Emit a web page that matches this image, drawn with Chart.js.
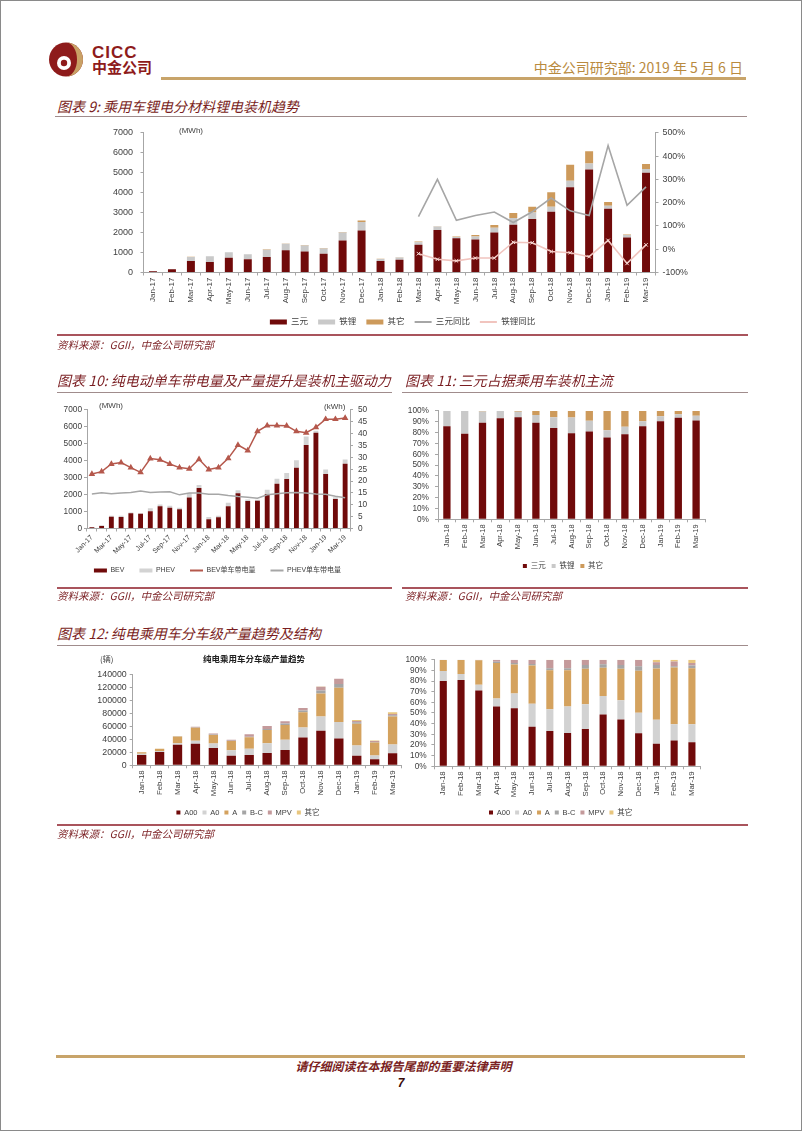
<!DOCTYPE html>
<html lang="zh-CN">
<head>
<meta charset="utf-8">
<title>CICC p7</title>
<script src="https://cdn.jsdelivr.net/npm/chart.js@4.4.1/dist/chart.umd.min.js"></script>
<style>
html,body{margin:0;padding:0;background:#fff;}
body{width:802px;height:1133px;position:relative;overflow:hidden;font-family:"Liberation Sans","Noto Sans CJK SC",sans-serif;}
.a{position:absolute;white-space:nowrap;}
.ttl{position:absolute;white-space:nowrap;font-family:"Noto Sans CJK SC",sans-serif;font-style:italic;color:#7A1E22;font-size:14px;line-height:18px;}
.src{position:absolute;white-space:nowrap;font-family:"Noto Sans CJK SC",sans-serif;font-style:italic;color:#7A1E22;font-size:10.5px;line-height:14px;}
.unit{position:absolute;white-space:nowrap;font-family:"Liberation Sans","Noto Sans CJK SC",sans-serif;font-size:8px;line-height:10px;color:#404040;}
.ln{position:absolute;}
canvas{position:absolute;}
</style>
</head>
<body>
<div class="ln" style="left:0;top:0;width:800px;height:1129px;border:1px solid #8a8a8a;"></div>

<!-- header -->
<svg class="a" style="left:49px;top:42px" width="34" height="35" viewBox="0 0 34 35">
  <circle cx="17" cy="17.5" r="17" fill="#8E1B1B"/>
  <path d="M17 0.5 A17 17 0 0 1 17 34.5 A11 17 0 0 0 17 0.5Z" fill="#C9A166"/>
  <circle cx="15" cy="21" r="7" fill="#fff"/>
  <circle cx="15" cy="21" r="3.2" fill="#8E1B1B"/>
</svg>
<div class="a" style="left:92px;top:44px;font:bold 17px/17px 'Liberation Sans';letter-spacing:1px;color:#8E1B1B;">CICC</div>
<div class="a" style="left:92px;top:59px;font:bold 15px/16px 'Noto Sans CJK SC';color:#8E1B1B;">中金公司</div>
<div class="a" style="right:59px;top:58px;font:14px/18px 'Noto Sans CJK SC';color:#B98A3E;">中金公司研究部: 2019 年 5 月 6 日</div>
<div class="ln" style="left:161px;top:77px;width:585px;height:2.5px;background:#C8A46A;"></div>

<!-- chart 9 -->
<div class="ttl" style="left:57px;top:97px;">图表 9: 乘用车锂电分材料锂电装机趋势</div>
<div class="ln" style="left:55px;top:116px;width:692px;height:1px;background:#A08C8C;"></div>
<canvas id="c9" width="691" height="216" style="left:57px;top:120px;"></canvas>
<div class="unit" style="left:179px;top:126px;">(MWh)</div>
<div class="ln" style="left:57px;top:334px;width:691px;height:1.5px;background:#A9545C;"></div>
<div class="src" style="left:57px;top:338px;">资料来源：GGII，中金公司研究部</div>

<!-- chart 10 / 11 -->
<div class="ttl" style="left:57px;top:371px;">图表 10: 纯电动单车带电量及产量提升是装机主驱动力</div>
<div class="ln" style="left:57px;top:392px;width:335px;height:1px;background:#A08C8C;"></div>
<div class="ttl" style="left:405px;top:371px;">图表 11: 三元占据乘用车装机主流</div>
<div class="ln" style="left:402px;top:392px;width:346px;height:1px;background:#A08C8C;"></div>
<canvas id="c10" width="335" height="190" style="left:57px;top:400px;"></canvas>
<div class="unit" style="left:99px;top:401px;">(MWh)</div>
<div class="unit" style="left:324px;top:402px;">(kWh)</div>
<canvas id="c11" width="338" height="180" style="left:395px;top:400px;"></canvas>
<div class="ln" style="left:57px;top:587px;width:335px;height:1.5px;background:#A9545C;"></div>
<div class="ln" style="left:402px;top:587px;width:346px;height:1.5px;background:#A9545C;"></div>
<div class="src" style="left:57px;top:589px;">资料来源：GGII，中金公司研究部</div>
<div class="src" style="left:405px;top:589px;">资料来源：GGII，中金公司研究部</div>

<!-- chart 12 -->
<div class="ttl" style="left:57px;top:624px;">图表 12: 纯电乘用车分车级产量趋势及结构</div>
<div class="ln" style="left:57px;top:645px;width:691px;height:1px;background:#A08C8C;"></div>
<canvas id="c12a" width="347" height="176" style="left:57px;top:650px;"></canvas>
<canvas id="c12b" width="320" height="176" style="left:400px;top:650px;"></canvas>
<div class="a" style="left:203px;top:653px;font:bold 8.5px/11px 'Noto Sans CJK SC';color:#222;">纯电乘用车分车级产量趋势</div>
<div class="unit" style="left:100px;top:654px;font-family:'Noto Sans CJK SC';">(辆)</div>
<div class="ln" style="left:57px;top:824px;width:691px;height:1.5px;background:#A9545C;"></div>
<div class="src" style="left:57px;top:827px;">资料来源：GGII，中金公司研究部</div>

<!-- footer -->
<div class="ln" style="left:56px;top:1055px;width:689px;height:2.5px;background:#C8A46A;"></div>
<div class="a" style="left:0;width:807px;text-align:center;top:1058px;font:italic bold 12px/16px 'Noto Sans CJK SC';color:#7A1E22;">请仔细阅读在本报告尾部的重要法律声明</div>
<div class="a" style="left:0;width:802px;text-align:center;top:1075px;font:italic bold 12px/16px 'Liberation Sans';color:#3A0A0A;">7</div>

<script>
// ---------- data ----------
const months17to19 = ['Jan-17','Feb-17','Mar-17','Apr-17','May-17','Jun-17','Jul-17','Aug-17','Sep-17','Oct-17','Nov-17','Dec-17','Jan-18','Feb-18','Mar-18','Apr-18','May-18','Jun-18','Jul-18','Aug-18','Sep-18','Oct-18','Nov-18','Dec-18','Jan-19','Feb-19','Mar-19'];
const months18to19 = ['Jan-18','Feb-18','Mar-18','Apr-18','May-18','Jun-18','Jul-18','Aug-18','Sep-18','Oct-18','Nov-18','Dec-18','Jan-19','Feb-19','Mar-19'];

// chart 9 (MWh, %)
const ternary9 = [60,160,580,530,740,660,775,1110,1050,935,1610,2110,580,640,1390,2135,1715,1650,2000,2390,2685,3040,4270,5160,3200,1760,5000];
const lfp9     = [10,15,200,280,270,250,370,330,310,270,400,420,100,110,130,170,65,160,250,345,325,260,330,310,150,120,190];
const other9   = [0,0,10,10,10,10,15,10,15,25,20,80,10,10,30,15,30,70,130,245,290,730,800,610,190,30,250];
const ternaryYoY9 = [null,null,null,null,null,null,null,null,null,null,null,null,null,null,140,300,124,145,160,115,161,220,165,145,446,189,268];
const lfpYoY9     = [null,null,null,null,null,null,null,null,null,null,null,null,null,null,-19,-43,-50,-38,-38,30,28,-10,-15,-32,38,-61,19];

// chart 10 (MWh, kWh)
const bev10  = [70,150,700,680,905,868,1020,1320,1226,1130,1830,2396,547,660,1320,2075,1623,1640,2038,2642,2925,3585,4925,5660,3226,1736,3830];
const phev10 = [20,40,55,75,35,37,170,95,114,96,264,170,133,95,208,189,94,60,245,301,358,453,509,114,264,113,245];
const bevKwh10  = [23.0,24.0,27.2,27.8,25.7,23.7,29.5,29.0,27.2,25.7,25.2,29.2,24.9,25.7,29.6,35.2,32.9,41.0,43.4,43.4,43.3,41.0,40.4,42.7,46.1,46.1,46.6];
const phevKwh10 = [14.6,15.1,14.7,15.0,15.2,15.8,15.2,15.4,15.5,14.2,15.0,15.0,14.4,14.4,13.9,13.5,13.2,12.8,14.2,14.7,15.1,15.2,15.0,14.6,14.4,13.6,13.0];

// chart 11 (%)
const ternaryShare11 = [85.8,78.9,89.1,93.4,94.3,89.1,84.3,79.5,81.0,75.5,78.5,85.8,90.6,93.7,91.2];
const lfpShare11     = [14.2,21.1,10.5,6.6,5.0,7.3,10.0,14.5,9.9,6.7,7.0,4.8,4.6,3.3,4.3];
const otherShare11   = [0,0,0.4,0,0.7,3.6,5.7,6.0,9.1,17.8,14.5,9.4,4.8,3.0,4.5];

// chart 12 left (辆)
const a00_12   = [16000,20500,31500,33300,26700,14600,15700,18900,23600,42900,53200,41100,14700,9200,18400];
const a0_12    = [1900,1400,2500,4500,6700,8600,9800,15000,15700,15300,21800,25700,15800,5800,13700];
const a_12     = [2100,3400,10500,19900,13300,14100,17500,20600,22600,23300,35600,52400,33500,20200,43000];
const bc_12    = [50,50,100,600,700,600,900,1200,2500,2900,4500,5700,2400,500,2000];
const mpv_12   = [50,50,150,1200,1600,1500,3800,4800,3300,3800,5900,8100,1700,1600,2000];
const other_12 = [0,0,0,0,50,100,100,100,100,100,200,200,1700,700,2400];

// chart 12 right (%)
const a00Share12   = [80,81,71,56,54.4,37,33,31.2,34.9,48.6,44,30.9,21.1,24.2,22.6];
const a0Share12    = [9.5,5.5,5.5,7.6,13.8,21.7,20.5,24.8,23.2,17.4,18,19.3,22.6,15.2,16.8];
const aShare12     = [10.3,13.3,23,33.4,27.2,35.8,36.7,34,33.3,26.4,29.4,39.4,48,53.3,52.6];
const bcShare12    = [0.1,0.1,0.2,1,1.5,1.5,1.8,2,3.7,3.3,3.7,4.3,3.4,1.2,2.5];
const mpvShare12   = [0.1,0.1,0.3,2,3,3.8,7.8,7.8,4.7,4.1,4.7,5.9,2.5,4.3,2.5];
const otherShare12 = [0,0,0,0,0.1,0.2,0.2,0.2,0.2,0.2,0.2,0.2,2.4,1.8,3];

// ---------- styling ----------
const RED = '#700A0A', LGRAY = '#C9C9C9', GOLD = '#CD9A5B';
const AX = '#A6A6A6', TXT = '#404040';
Chart.defaults.font.family = "'Liberation Sans','Noto Sans CJK SC',sans-serif";
Chart.defaults.color = TXT;
Chart.defaults.animation = false;
Chart.defaults.responsive = false;
Chart.defaults.devicePixelRatio = 1;
Chart.defaults.events = [];
Chart.defaults.plugins.tooltip.enabled = false;

// moves the legend box so that its items are centred on (cx, cy) in canvas pixels
const legendPos = {
  id:'legendPos',
  afterLayout(chart, args, opts){
    const lg = chart.legend; if (!lg) return;
    const lo = lg.options.labels;
    const fs = lo.font && lo.font.size ? lo.font.size : 8;
    if (opts.cx != null){ const dx = opts.cx - (lg.left + lg.right) / 2; lg.left += dx; lg.right += dx; }
    if (opts.cy != null){ const h = lg.bottom - lg.top; lg.top = opts.cy - lo.padding - fs / 2; lg.bottom = lg.top + h; }
  }
};

function legendLabels(chart){
  const items = Chart.defaults.plugins.legend.labels.generateLabels(chart);
  items.forEach(it => {
    const ds = chart.data.datasets[it.datasetIndex];
    if (ds.type === 'line') {
      it.pointStyle = 'line'; it.strokeStyle = ds.borderColor; it.fillStyle = ds.borderColor; it.lineWidth = 2;
    } else {
      it.pointStyle = 'rect'; it.fillStyle = ds.backgroundColor; it.strokeStyle = ds.backgroundColor; it.lineWidth = 0;
    }
  });
  return items;
}
function legend(fs, pad, w, h){
  return { display:true, position:'bottom',
    labels:{ usePointStyle:true, pointStyleWidth:w, boxHeight:h, padding:pad, color:TXT,
      font:{size:fs, family:"'Liberation Sans','Noto Sans CJK SC',sans-serif"},
      generateLabels: legendLabels, sort:(a, b) => a.datasetIndex - b.datasetIndex } };
}
function xAxis(h, rot, fs, everyOther){
  return { type:'category', stacked:true, offset:true,
    grid:{ offset:true, drawOnChartArea:false, drawTicks:true, tickLength:3, color:AX },
    border:{ color:AX, width:1 },
    ticks:{ autoSkip:false, maxRotation:rot, minRotation:rot, font:{size:fs}, padding:2, color:TXT,
      callback: function(v, i){ return (everyOther && i % 2) ? '' : this.getLabelForValue(v); } },
    afterFit(s){ s.height = h; } };
}
function yAxis(pos, w, min, max, step, fs, pad, fmt, stacked){
  return { position:pos, min, max, stacked:!!stacked,
    ticks:{ stepSize:step, autoSkip:false, font:{size:fs}, padding:pad, color:TXT, callback: fmt || (v => v) },
    grid:{ drawOnChartArea:false, drawTicks:true, tickLength:3, color:AX },
    border:{ color:AX, width:1 },
    afterFit(s){ s.width = w; } };
}
const pct = v => v + '%';

// ---------- chart 9 ----------
new Chart(document.getElementById('c9'), {
  data:{ labels: months17to19, datasets:[
    { type:'bar', label:'三元', data:ternary9, backgroundColor:RED, yAxisID:'y', order:2, barPercentage:0.42, categoryPercentage:1 },
    { type:'bar', label:'铁锂', data:lfp9, backgroundColor:LGRAY, yAxisID:'y', order:2, barPercentage:0.42, categoryPercentage:1 },
    { type:'bar', label:'其它', data:other9, backgroundColor:GOLD, yAxisID:'y', order:2, barPercentage:0.42, categoryPercentage:1 },
    { type:'line', label:'三元同比', data:ternaryYoY9, yAxisID:'y1', borderColor:'#A6A6A6', borderWidth:1.6, pointRadius:0, order:1, tension:0 },
    { type:'line', label:'铁锂同比', data:lfpYoY9, yAxisID:'y1', borderColor:'#F1C4BE', borderWidth:1.6, pointStyle:'crossRot', pointRadius:2.5, pointBorderColor:'#F6DCD8', pointBorderWidth:1, order:0, tension:0 }
  ]},
  plugins:[legendPos],
  options:{
    layout:{ padding:{ top:8, left:0, right:0, bottom:0 } },
    plugins:{ legend: legend(8.5, 10, 17, 5), legendPos:{ cy:202 } },
    scales:{
      x: xAxis(35, 90, 8, false),
      y: yAxis('left', 86.5, 0, 7000, 1000, 9, 7.5, null, true),
      y1: yAxis('right', 92.5, -100, 500, 100, 8.8, 4, pct, false)
    }
  }
});

// ---------- chart 10 ----------
new Chart(document.getElementById('c10'), {
  data:{ labels: months17to19, datasets:[
    { type:'bar', label:'BEV', data:bev10, backgroundColor:RED, yAxisID:'y', order:2, barPercentage:0.5, categoryPercentage:1 },
    { type:'bar', label:'PHEV', data:phev10, backgroundColor:'#D3D3D3', yAxisID:'y', order:2, barPercentage:0.5, categoryPercentage:1 },
    { type:'line', label:'BEV单车带电量', data:bevKwh10, yAxisID:'y1', borderColor:'#B5584C', backgroundColor:'#B5584C', borderWidth:1.5, pointStyle:'triangle', pointRadius:2.3, pointBackgroundColor:'#B5584C', pointBorderColor:'#B5584C', order:0, tension:0 },
    { type:'line', label:'PHEV单车带电量', data:phevKwh10, yAxisID:'y1', borderColor:'#A6A6A6', borderWidth:1.5, pointRadius:0, order:1, tension:0 }
  ]},
  plugins:[legendPos],
  options:{
    layout:{ padding:{ top:6, left:0, right:0, bottom:0 } },
    plugins:{ legend: legend(7, 15, 13, 4), legendPos:{ cx:160.5, cy:170.5 } },
    scales:{
      x: xAxis(29.5, 45, 7, true),
      y: yAxis('left', 30, 0, 7000, 1000, 8.3, 2, null, true),
      y1: yAxis('right', 42, 0, 50, 5, 8.3, 5, null, false)
    }
  }
});

// ---------- chart 11 ----------
new Chart(document.getElementById('c11'), {
  data:{ labels: months18to19, datasets:[
    { type:'bar', label:'三元', data:ternaryShare11, backgroundColor:RED, barPercentage:0.41, categoryPercentage:1 },
    { type:'bar', label:'铁锂', data:lfpShare11, backgroundColor:LGRAY, barPercentage:0.41, categoryPercentage:1 },
    { type:'bar', label:'其它', data:otherShare11, backgroundColor:GOLD, barPercentage:0.41, categoryPercentage:1 }
  ]},
  plugins:[legendPos],
  options:{
    layout:{ padding:{ top:9, left:0, right:28, bottom:0 } },
    plugins:{ legend: legend(7.5, 6, 4, 4), legendPos:{ cx:168, cy:166 } },
    scales:{
      x: xAxis(37.2, 90, 7.5, false),
      y: yAxis('left', 43, 0, 100, 10, 8.3, 6, pct, true)
    }
  }
});

// ---------- chart 12 ----------
const C12 = { a00:RED, a0:'#D2D2D2', a:'#D4A25E', bc:'#A5A5A5', mpv:'#C49A9B', other:'#E8C67E' };
function ds12(d1,d2,d3,d4,d5,d6,bp){
  const mk = (label, data, color) => ({ type:'bar', label, data, backgroundColor:color, barPercentage:bp, categoryPercentage:1 });
  return [ mk('A00', d1, C12.a00), mk('A0', d2, C12.a0), mk('A', d3, C12.a), mk('B-C', d4, C12.bc), mk('MPV', d5, C12.mpv), mk('其它', d6, C12.other) ];
}
new Chart(document.getElementById('c12a'), {
  data:{ labels: months18to19, datasets: ds12(a00_12, a0_12, a_12, bc_12, mpv_12, other_12, 0.52) },
  plugins:[legendPos],
  options:{
    layout:{ padding:{ top:24.3, left:0, right:1.3, bottom:0 } },
    plugins:{ legend: legend(7.5, 5, 4, 4), legendPos:{ cx:191, cy:162.5 } },
    scales:{
      x: xAxis(38.2, 90, 7.8, false),
      y: yAxis('left', 75.7, 0, 140000, 20000, 8.8, 3, null, true)
    }
  }
});
new Chart(document.getElementById('c12b'), {
  data:{ labels: months18to19, datasets: ds12(a00Share12, a0Share12, aShare12, bcShare12, mpvShare12, otherShare12, 0.4) },
  plugins:[legendPos],
  options:{
    layout:{ padding:{ top:7.3, left:0, right:19.2, bottom:0 } },
    plugins:{ legend: legend(7.5, 5, 4, 4), legendPos:{ cx:160.6, cy:162.5 } },
    scales:{
      x: xAxis(37.2, 90, 7.8, false),
      y: yAxis('left', 34.4, 0, 100, 10, 8.3, 4.7, pct, true)
    }
  }
});
</script>
</body>
</html>
